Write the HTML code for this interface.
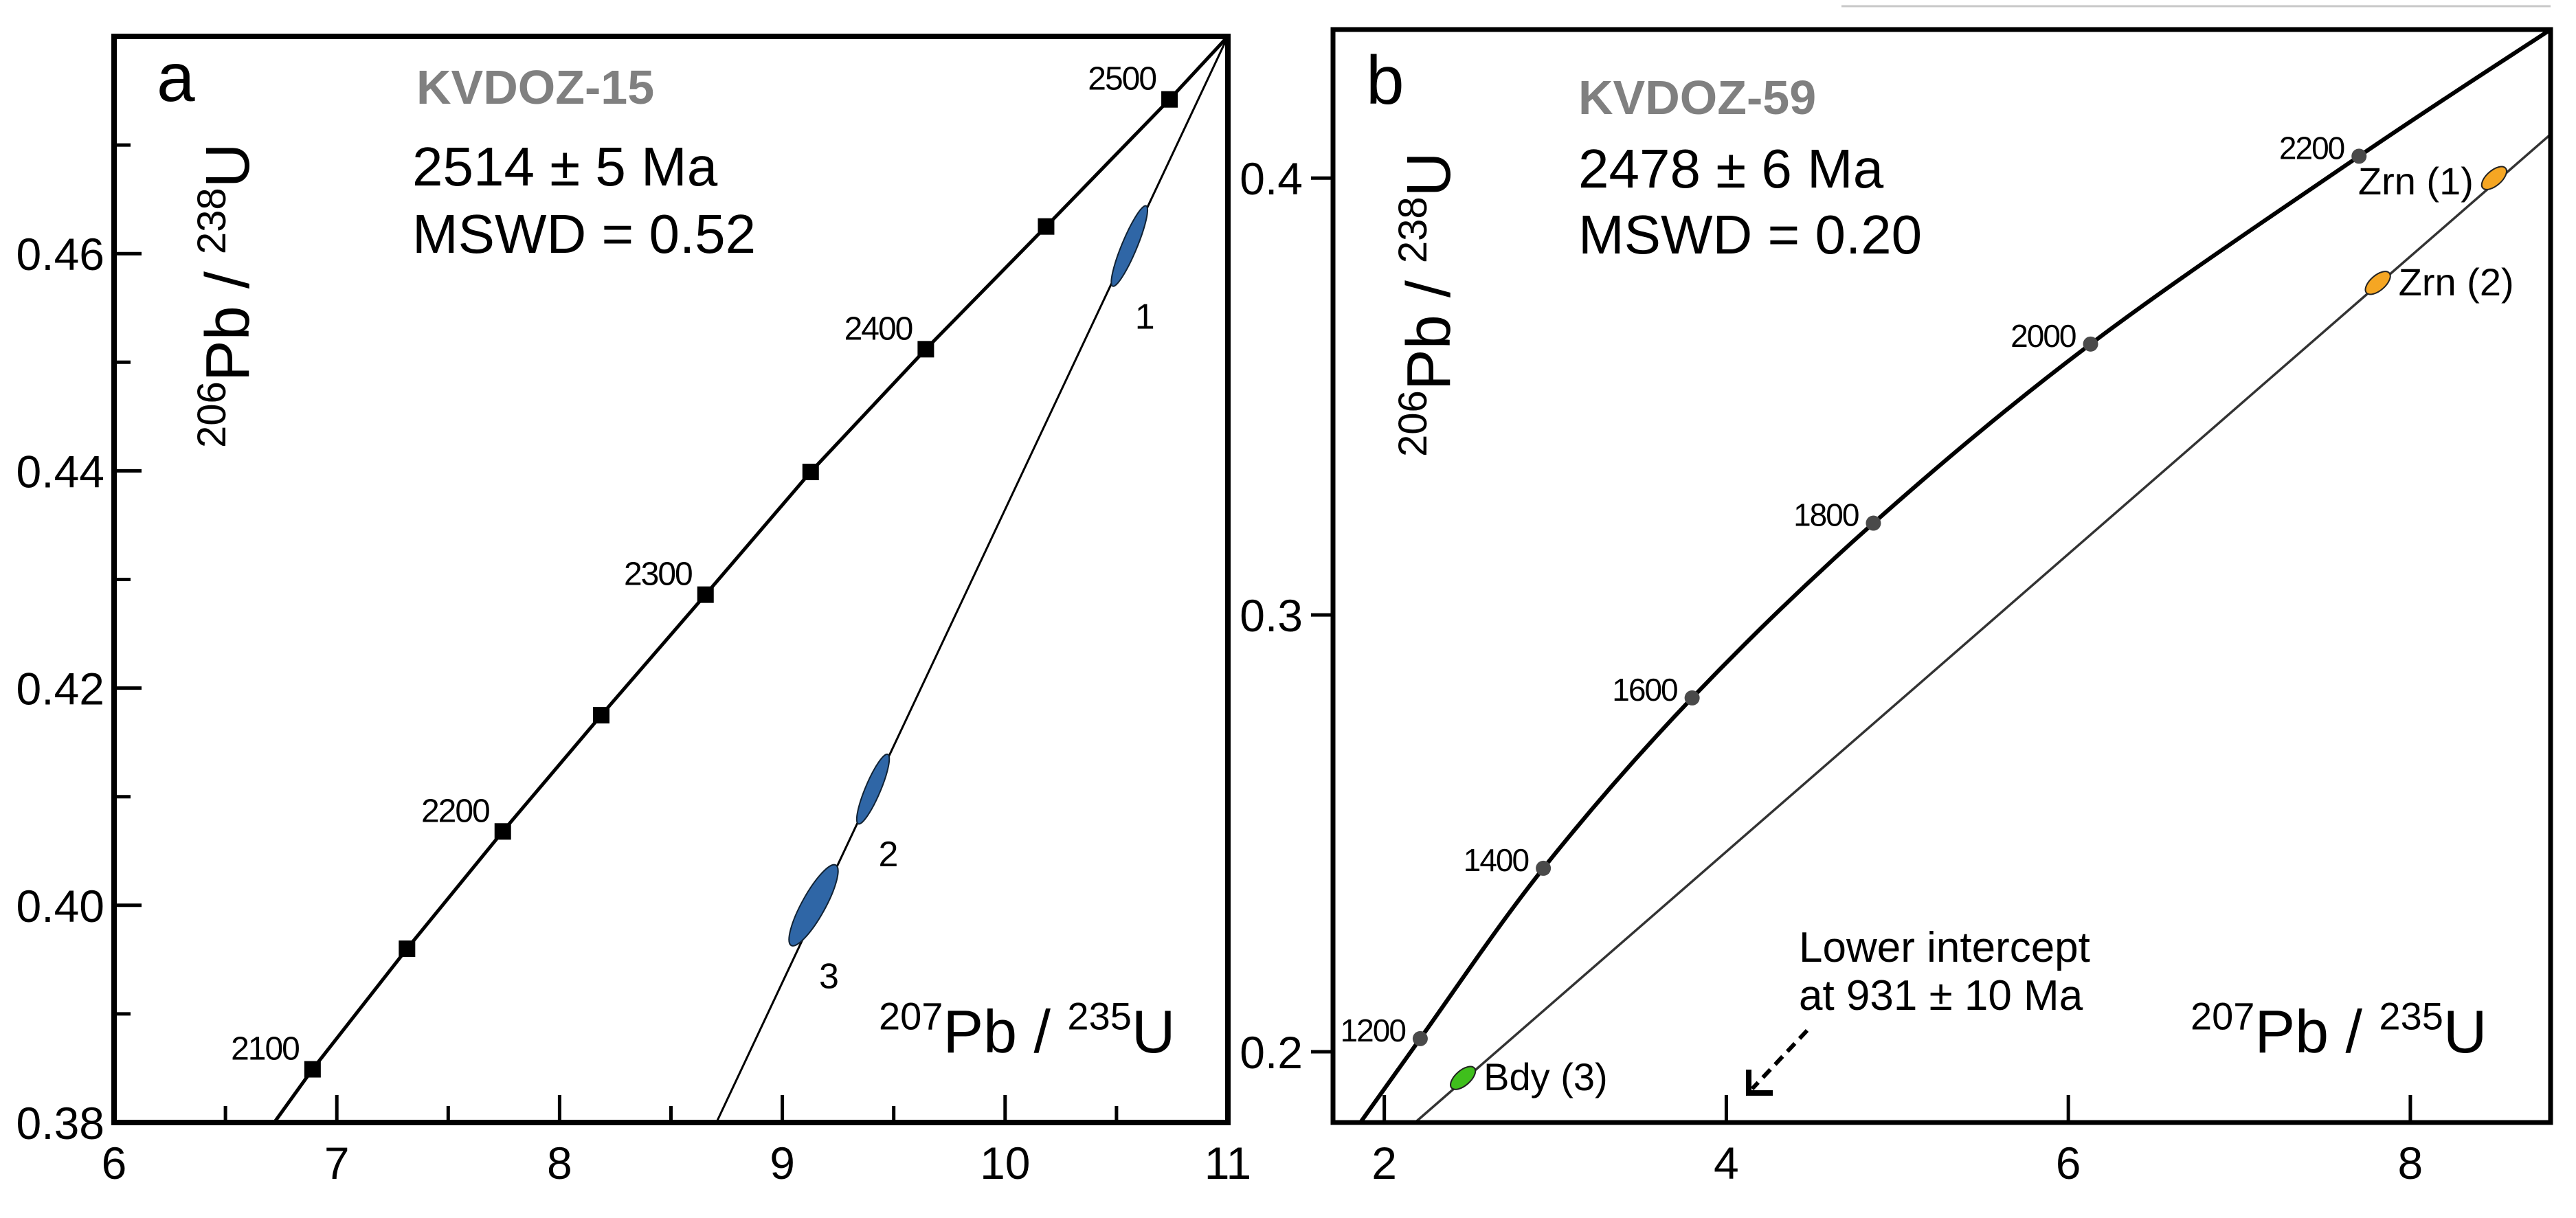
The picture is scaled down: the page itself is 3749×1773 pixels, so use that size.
<!DOCTYPE html>
<html><head><meta charset="utf-8"><style>
html,body{margin:0;padding:0;background:#fff}
svg{display:block}
text{font-family:"Liberation Sans",Arial,sans-serif}
</style></head>
<body>
<svg id="fig" width="3749" height="1773" viewBox="0 0 3749 1773" xmlns="http://www.w3.org/2000/svg">
<line x1="2680" y1="9" x2="3712" y2="9" stroke="#c8c8c8" stroke-width="3"/>
</svg>
<script>
// ---------- Panel a data ----------
const aAges = [2100, null, 2200, null, 2300, null, 2400, null, 2500];
const aConX = [6.891, 7.315, 7.745, 8.187, 8.655, 9.127, 9.644, 10.184, 10.738];
const aConY = [0.3849, 0.3960, 0.4068, 0.4175, 0.4286, 0.4399, 0.4512, 0.4625, 0.4742];
const aConEndX = [6.719, 11.0];
const aConEndY = [0.38, 0.48];
const aDiscX = [8.704, 11.0];
const aDiscY = [0.38, 0.48];
const aEllLabels = ["1", "2", "3"];
const aEllX = [10.558, 9.407, 9.14];
const aEllY = [0.4607, 0.4107, 0.400];
const aEllHalfDX = [0.075, 0.066, 0.10];
const aEllHalfDY = [0.0037, 0.0032, 0.0037];
const aXTicks = [6, 7, 8, 9, 10, 11];
const aYTicks = [0.38, 0.40, 0.42, 0.44, 0.46];
const aYTickLabels = ["0.38", "0.40", "0.42", "0.44", "0.46"];
// ---------- Panel b data ----------
const bAges = [1200, 1400, 1600, 1800, 2000, 2200];
const bConX = [2.21, 2.93, 3.80, 4.86, 6.13, 7.70];
const bConY = [0.203, 0.242, 0.281, 0.321, 0.362, 0.405];
const bConEndX = [1.86, 8.82];
const bConEndY = [0.1838, 0.434];
const bDiscX = [2.18, 8.82];
const bDiscY = [0.1838, 0.410];
const bEllLabels = ["Zrn (1)", "Zrn (2)", "Bdy (3)"];
const bEllX = [8.49, 7.81, 2.46];
const bEllY = [0.400, 0.376, 0.194];
const bEllColors = ["#f5a623", "#f5a623", "#3fbf1c"];
const bXTicks = [2, 4, 6, 8];
const bYTicks = [0.2, 0.3, 0.4];
const bYTickLabels = ["0.2", "0.3", "0.4"];

const NS = "http://www.w3.org/2000/svg";
const svg = document.getElementById("fig");
function mk(tag, attrs, parent) {
  const e = document.createElementNS(NS, tag);
  for (const k in attrs) e.setAttribute(k, attrs[k]);
  (parent || svg).appendChild(e);
  return e;
}
function txt(x, y, s, size, parent, extra) {
  const t = mk("text", Object.assign({x: x, y: y, "font-size": size, fill: "#000"}, extra || {}), parent);
  t.textContent = s;
  return t;
}
function ratioLabel(x, y, a, b, big, sup, parent, rotate) {
  const g = mk("g", rotate ? {transform: "rotate(-90 " + x + " " + y + ")"} : {}, parent);
  const t = mk("text", {x: x, y: y, "font-size": big, fill: "#000"}, g);
  const s1 = mk("tspan", {"font-size": sup, dy: -big * 0.38}, t); s1.textContent = a;
  const s2 = mk("tspan", {dy: big * 0.38}, t); s2.textContent = "Pb / ";
  const s3 = mk("tspan", {"font-size": sup, dy: -big * 0.38}, t); s3.textContent = b;
  const s4 = mk("tspan", {dy: big * 0.38}, t); s4.textContent = "U";
  return g;
}

// ---------- Panel a ----------
const A = {l: 166, r: 1787, t: 53, b: 1634, x0: 6, x1: 11, y0: 0.38, y1: 0.48};
const ax = v => A.l + (v - A.x0) / (A.x1 - A.x0) * (A.r - A.l);
const ay = v => A.b - (v - A.y0) / (A.y1 - A.y0) * (A.b - A.t);
const ga = mk("g", {});


for (let i = 0; i < aXTicks.length; i++) {
  const v = aXTicks[i];
  const t = mk("line", {x1: ax(v), x2: ax(v), y1: A.b, y2: A.b - 40, stroke: "#000", "stroke-width": 5}, ga);
  
  
  if (i < aXTicks.length - 1) {
    const m = mk("line", {x1: ax(v + 0.5), x2: ax(v + 0.5), y1: A.b, y2: A.b - 24, stroke: "#000", "stroke-width": 5}, ga);
    
    
  }
  const l = txt(ax(v), A.b + 82, String(v), 66, ga, {"text-anchor": "middle"});
  
  
}
for (let i = 0; i < aYTicks.length; i++) {
  const v = aYTicks[i];
  const t = mk("line", {x1: A.l, x2: A.l + 40, y1: ay(v), y2: ay(v), stroke: "#000", "stroke-width": 5}, ga);
  
  
  const m = mk("line", {x1: A.l, x2: A.l + 24, y1: ay(v + 0.01), y2: ay(v + 0.01), stroke: "#000", "stroke-width": 5}, ga);
  
  
  const l = txt(A.l - 14, ay(v) + 24, aYTickLabels[i], 66, ga, {"text-anchor": "end"});
  
  
}
let pa = [[ax(aConEndX[0]), ay(aConEndY[0])]];
for (let i = 0; i < aConX.length; i++) pa.push([ax(aConX[i]), ay(aConY[i])]);
pa.push([ax(aConEndX[1]), ay(aConEndY[1])]);
const ca = mk("polyline", {points: pa.map(p => p.join(",")).join(" "), fill: "none", stroke: "#000", "stroke-width": 5}, ga);


const da = mk("line", {x1: ax(aDiscX[0]), y1: ay(aDiscY[0]), x2: ax(aDiscX[1]), y2: ay(aDiscY[1]), stroke: "#000", "stroke-width": 3}, ga);


for (let i = 0; i < aConX.length; i++) {
  const cx = ax(aConX[i]), cy = ay(aConY[i]);
  const s = mk("rect", {x: cx - 12, y: cy - 12, width: 24, height: 24, fill: "#000"}, ga);
  
  
  if (aAges[i] !== null) {
    const l = txt(cx - 20, cy - 14, String(aAges[i]), 48, ga, {"text-anchor": "end", "letter-spacing": "-2"});
    
    
  }
}
for (let i = 0; i < aEllX.length; i++) {
  const x1 = ax(aEllX[i] - aEllHalfDX[i]), y1 = ay(aEllY[i] - aEllHalfDY[i]);
  const x2 = ax(aEllX[i] + aEllHalfDX[i]), y2 = ay(aEllY[i] + aEllHalfDY[i]);
  const cx = (x1 + x2) / 2, cy = (y1 + y2) / 2;
  const len = Math.hypot(x2 - x1, y2 - y1) / 2;
  const ang = Math.atan2(y2 - y1, x2 - x1) * 180 / Math.PI;
  const e = mk("ellipse", {cx: cx, cy: cy, rx: len, ry: i === 2 ? 17 : 11, fill: "#2f66a6", stroke: "#123", "stroke-width": 2, transform: "rotate(" + ang + " " + cx + " " + cy + ")"}, ga);
  
  
  const l = txt(cx + 8, y1 + 62, aEllLabels[i], 52, ga, {});
  
  
}
const boxA = mk("rect", {x: A.l, y: A.t, width: A.r - A.l, height: A.b - A.t, fill: "none", stroke: "#000", "stroke-width": 8}, ga);


const la = txt(228, 147, "a", 100, ga);  
const sa = txt(606, 151, "KVDOZ-15", 70, ga, {fill: "#808080", "font-weight": "bold"});  
const aga = txt(600, 270, "2514 ± 5 Ma", 80, ga);  
const ma = txt(600, 368, "MSWD = 0.52", 80, ga);  
const yla = ratioLabel(362, 652, "206", "238", 90, 58, ga, true);  
const xla = ratioLabel(1279, 1532, "207", "235", 88, 56, ga, false);  

// ---------- Panel b ----------
const B = {l: 1940, r: 3712, t: 43, b: 1634, x0: 1.70, x1: 8.82, y0: 0.1838, y1: 0.434};
const bx = v => B.l + (v - B.x0) / (B.x1 - B.x0) * (B.r - B.l);
const by = v => B.b - (v - B.y0) / (B.y1 - B.y0) * (B.b - B.t);
const gb = mk("g", {});


for (let i = 0; i < bXTicks.length; i++) {
  const v = bXTicks[i];
  const t = mk("line", {x1: bx(v), x2: bx(v), y1: B.b, y2: B.b - 40, stroke: "#000", "stroke-width": 5}, gb);
  
  
  const l = txt(bx(v), B.b + 82, String(v), 66, gb, {"text-anchor": "middle"});
  
  
}
for (let i = 0; i < bYTicks.length; i++) {
  const v = bYTicks[i];
  const t = mk("line", {x1: B.l - 32, x2: B.l, y1: by(v), y2: by(v), stroke: "#000", "stroke-width": 5}, gb);
  
  
  const l = txt(B.l - 44, by(v) + 24, bYTickLabels[i], 66, gb, {"text-anchor": "end"});
  
  
}
let pb = [[bx(bConEndX[0]), by(bConEndY[0])]];
for (let i = 0; i < bConX.length; i++) pb.push([bx(bConX[i]), by(bConY[i])]);
pb.push([bx(bConEndX[1]), by(bConEndY[1])]);
let d = "M" + pb[0][0] + "," + pb[0][1];
for (let i = 0; i < pb.length - 1; i++) {
  const p0 = pb[Math.max(0, i - 1)], p1 = pb[i], p2 = pb[i + 1], p3 = pb[Math.min(pb.length - 1, i + 2)];
  const c1 = [p1[0] + (p2[0] - p0[0]) / 6, p1[1] + (p2[1] - p0[1]) / 6];
  const c2 = [p2[0] - (p3[0] - p1[0]) / 6, p2[1] - (p3[1] - p1[1]) / 6];
  d += " C" + c1.join(",") + " " + c2.join(",") + " " + p2.join(",");
}
const cb = mk("path", {d: d, fill: "none", stroke: "#000", "stroke-width": 6}, gb);


const db = mk("line", {x1: bx(bDiscX[0]), y1: by(bDiscY[0]), x2: bx(bDiscX[1]), y2: by(bDiscY[1]), stroke: "#333", "stroke-width": 3.5}, gb);


for (let i = 0; i < bConX.length; i++) {
  const cx = bx(bConX[i]), cy = by(bConY[i]);
  const c = mk("circle", {cx: cx, cy: cy, r: 11, fill: "#4a4a4a"}, gb);
  
  
  const l = txt(cx - 22, cy + 4, String(bAges[i]), 46, gb, {"text-anchor": "end", "letter-spacing": "-2"});
  
  
}
const slopeB = Math.atan2(by(bDiscY[1]) - by(bDiscY[0]), bx(bDiscX[1]) - bx(bDiscX[0])) * 180 / Math.PI;
for (let i = 0; i < bEllX.length; i++) {
  const cx = bx(bEllX[i]), cy = by(bEllY[i]);
  const e = mk("ellipse", {cx: cx, cy: cy, rx: 22, ry: 11, fill: bEllColors[i], stroke: "#222", "stroke-width": 2, transform: "rotate(" + slopeB + " " + cx + " " + cy + ")"}, gb);
  
  
  const isLeft = i === 0;
  const l = txt(isLeft ? cx - 30 : cx + 30, cy + (isLeft ? 24 : 18), bEllLabels[i], 56, gb, {"text-anchor": isLeft ? "end" : "start"});
  
  
}
const boxB = mk("rect", {x: B.l, y: B.t, width: B.r - B.l, height: B.b - B.t, fill: "none", stroke: "#000", "stroke-width": 7}, gb);


const lb = txt(1988, 151, "b", 100, gb);  
const sb = txt(2297, 166, "KVDOZ-59", 70, gb, {fill: "#808080", "font-weight": "bold"});  
const agb = txt(2297, 273, "2478 ± 6 Ma", 80, gb);  
const mb = txt(2297, 369, "MSWD = 0.20", 80, gb);  
const ylb = ratioLabel(2110, 665, "206", "238", 90, 58, gb, true);  
const xlb = ratioLabel(3188, 1532, "207", "235", 88, 56, gb, false);  
const li1 = txt(2618, 1400, "Lower intercept", 62, gb);  
const li2 = txt(2618, 1470, "at 931 ± 10 Ma", 62, gb);  
const arr = mk("line", {x1: 2630, y1: 1500, x2: 2550, y2: 1585, stroke: "#000", "stroke-width": 6, "stroke-dasharray": "16,10"}, gb);


const ah = mk("polyline", {points: "2545,1557 2545,1591 2580,1591", fill: "none", stroke: "#000", "stroke-width": 8}, gb);


</script>
</body></html>
